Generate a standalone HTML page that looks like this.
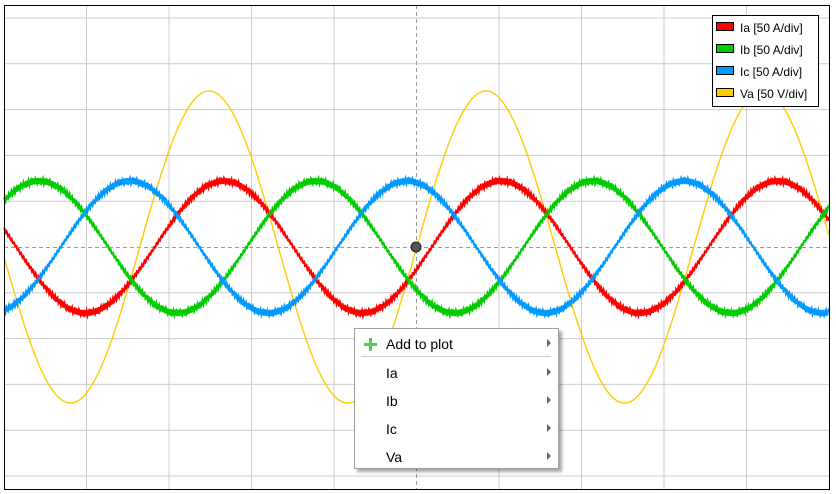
<!DOCTYPE html>
<html><head><style>
body{margin:0;width:836px;height:494px;background:#fff;overflow:hidden;font-family:"Liberation Sans",sans-serif;position:relative}
.leg{position:absolute;left:712px;top:15px;width:105px;height:90px;border:1px solid #000;background:#fff;font-size:12px}
.leg div{position:absolute;left:3px;height:14px;line-height:14px}
.leg span{display:inline-block;width:16px;height:7px;border:1px solid #000;margin-right:6px;vertical-align:1px}
.menu{position:absolute;left:354px;top:328px;width:203px;height:139px;border:1px solid #a0a0a0;background:#fff;box-shadow:3px 3px 3px rgba(0,0,0,0.35);font-size:14px;color:#000}
.it{position:absolute;left:31px;height:18px;line-height:18px}
.ar{position:absolute;left:192px;width:0;height:0;border-top:4px solid transparent;border-bottom:4px solid transparent;border-left:4px solid #666}
</style></head><body>
<svg id="s" width="836" height="494" style="position:absolute;left:0;top:0"></svg>
<div class="leg">
<div style="top:5px"><span style="background:#f00"></span>Ia [50 A/div]</div>
<div style="top:27px"><span style="background:#0c0"></span>Ib [50 A/div]</div>
<div style="top:49px"><span style="background:#09f"></span>Ic [50 A/div]</div>
<div style="top:71px"><span style="background:#fc0"></span>Va [50 V/div]</div>
</div>
<div class="menu">
<div style="position:absolute;left:9px;top:14px;width:13px;height:3px;background:#5c5"></div>
<div style="position:absolute;left:14px;top:9px;width:3px;height:13px;background:#5c5"></div>
<div class="it" style="top:6px">Add to plot</div><div class="ar" style="top:10px"></div>
<div style="position:absolute;left:6px;top:27px;width:190px;height:1px;background:#ccc"></div>
<div class="it" style="top:35px">Ia</div><div class="ar" style="top:39px"></div>
<div class="it" style="top:63px">Ib</div><div class="ar" style="top:67px"></div>
<div class="it" style="top:91px">Ic</div><div class="ar" style="top:95px"></div>
<div class="it" style="top:119px">Va</div><div class="ar" style="top:123px"></div>
</div>
<script>
var s=document.getElementById('s'),h='';
for(var k=1;k<10;k++){var x=4+82.5*k;if(k!=5)h+='<line x1="'+x+'" y1="5" x2="'+x+'" y2="489" stroke="#ccc"/>';}
for(var k=0;k<11;k++){var y=18+45.8*k;if(k!=5)h+='<line x1="4" y1="'+y+'" x2="829" y2="'+y+'" stroke="#ccc"/>';}
h+='<line x1="416.5" y1="5" x2="416.5" y2="489" stroke="#999" stroke-dasharray="4,3"/>';
h+='<line x1="4" y1="247.5" x2="829" y2="247.5" stroke="#999" stroke-dasharray="4,3"/>';
var T=277;
function wave(pk,A,col,r,w){var d='';for(var x=4;x<=829;x+=0.5){var y=247-A*Math.cos(2*Math.PI*(x-pk)/T);if(r)y+=r*Math.sin(x*2.6)*(0.4+0.6*Math.abs(Math.cos(2*Math.PI*(x-pk)/T)));d+=(x==4?'M':'L')+x+' '+y.toFixed(2);}
return '<path d="'+d+'" fill="none" stroke="'+col+'" stroke-width="'+w+'"/>';}
h+=wave(209,156,'#fc0',0,1.4);
h+=wave(224,66,'#f00',3,2);
h+=wave(39,66,'#0c0',3,2);
h+=wave(130,66,'#09f',3,2);
h+='<circle cx="416" cy="247" r="5" fill="#555" stroke="#222"/>';
h+='<rect x="4.5" y="5.5" width="825" height="484" fill="none" stroke="#000"/>';
s.innerHTML=h;
</script>
</body></html>
